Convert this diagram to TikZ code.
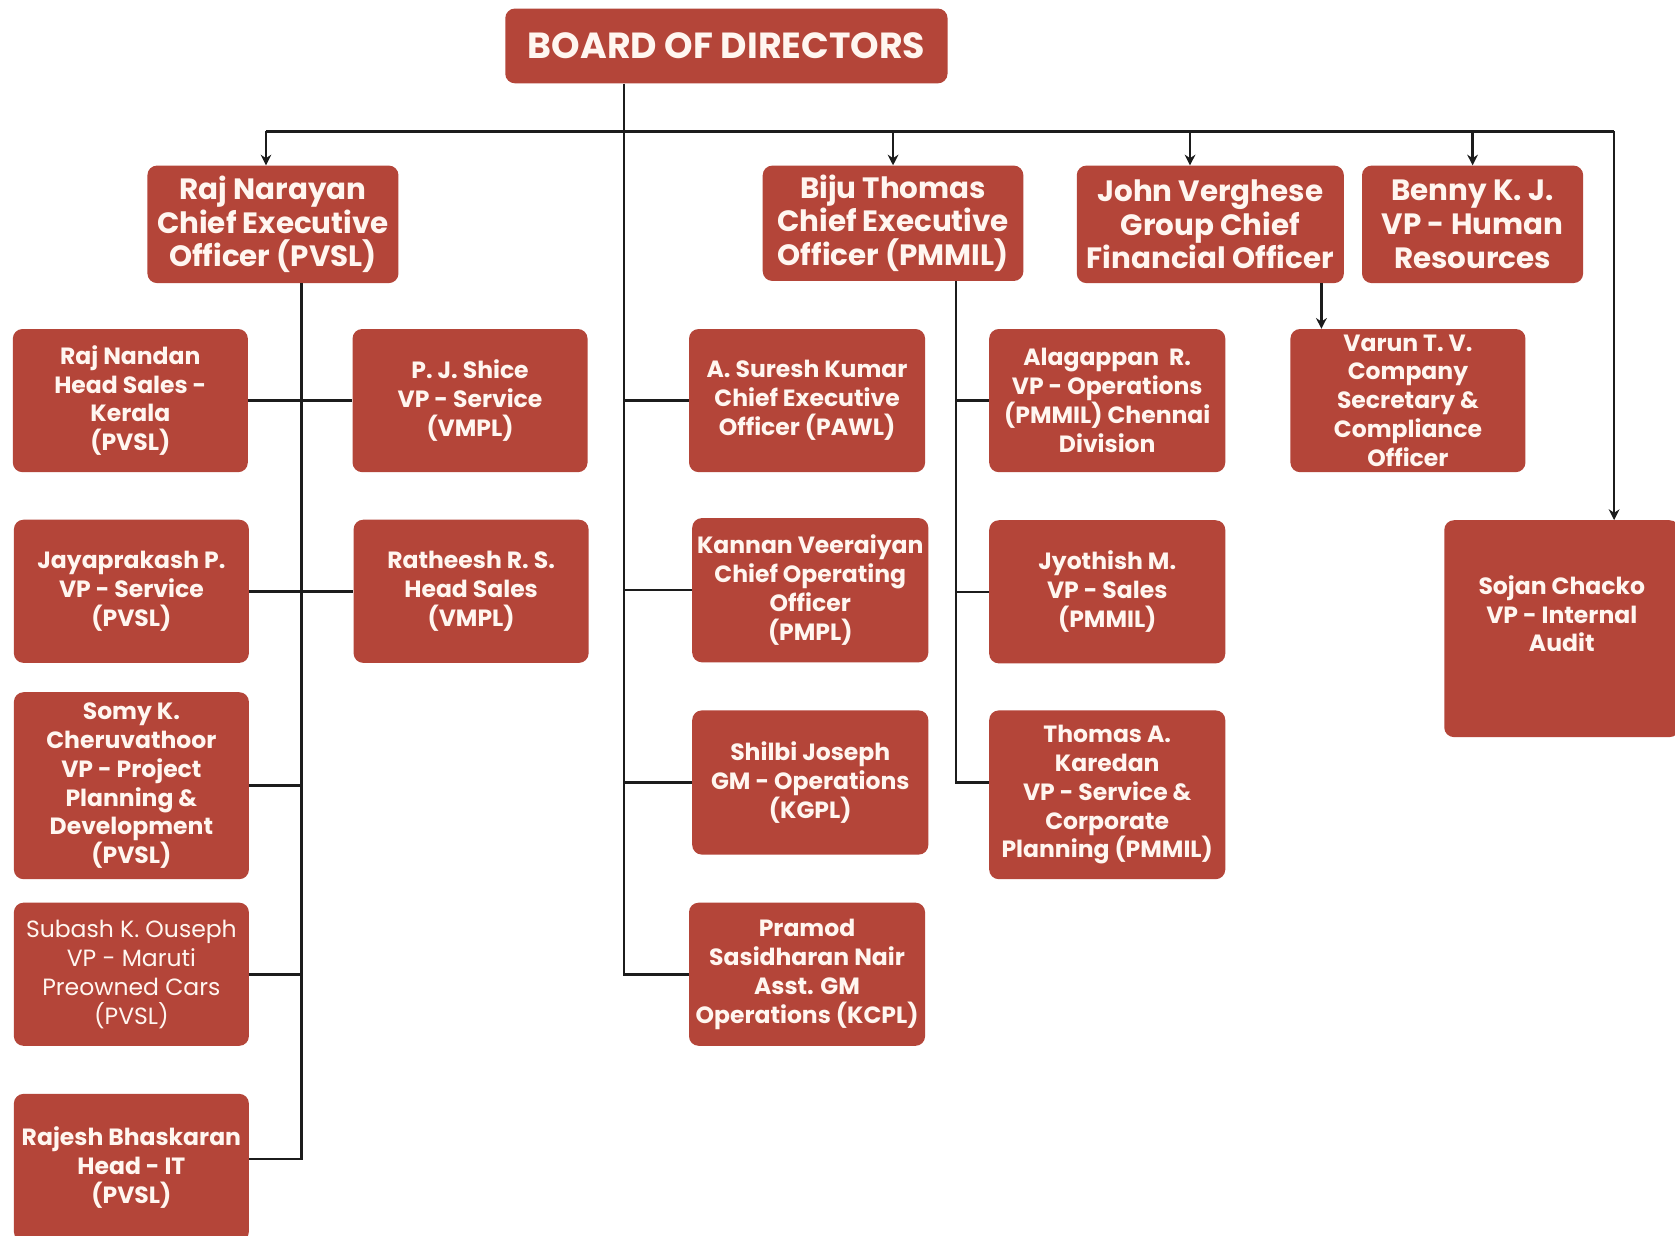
\documentclass[tikz,border=0pt]{standalone}
\usepackage{fontspec}
\setmainfont{Poppins}
\usetikzlibrary{arrows.meta}
\definecolor{boxred}{RGB}{180,69,57}
\definecolor{boxtext}{RGB}{255,246,240}
\definecolor{linecol}{RGB}{28,28,28}
\tikzset{
  box/.style={fill=boxred, rounded corners=9pt, text=boxtext, align=center, inner sep=0pt,
    font=\bfseries\fontsize{22}{27}\selectfont},
  topbox/.style={box, font=\bfseries\fontsize{27.5}{31.5}\selectfont},
  conn/.style={draw=linecol, line width=2.4pt},
  arr/.style={conn, -{Stealth[length=10pt,width=10pt]}},
}
\begin{document}
\begin{tikzpicture}[x=1pt,y=-1pt]
\useasboundingbox[fill=white] (0,0) rectangle (1568,1157);

% ---------- nodes ----------
\node[box, minimum width=414pt, minimum height=70pt, font=\bfseries\fontsize{34}{38}\selectfont] (board) at (680,43) {BOARD OF DIRECTORS};

\node[topbox, minimum width=235pt, minimum height=110pt] (rajnar) at (255.5,210) {Raj Narayan\\Chief Executive\\Officer (PVSL)};
\node[topbox, minimum width=244pt, minimum height=108pt] (biju) at (836,209) {Biju Thomas\\Chief Executive\\Officer (PMMIL)};
\node[topbox, minimum width=250pt, minimum height=110pt] (john) at (1133,210) {John Verghese\\Group Chief\\Financial Officer};
\node[topbox, minimum width=207pt, minimum height=110pt] (benny) at (1378.5,210) {Benny K. J.\\VP - Human\\Resources};

% Raj Narayan group
\node[box, minimum width=220pt, minimum height=134pt] (rajnandan) at (122,375) {Raj Nandan\\Head Sales -\\Kerala\\(PVSL)};
\node[box, minimum width=220pt, minimum height=134pt] (shice) at (440,375) {P. J. Shice\\VP - Service\\(VMPL)};
\node[box, minimum width=220pt, minimum height=134pt] (jaya) at (123,553.5) {Jayaprakash P.\\VP - Service\\(PVSL)};
\node[box, minimum width=220pt, minimum height=134pt] (rath) at (441,553.5) {Ratheesh R. S.\\Head Sales\\(VMPL)};
\node[box, minimum width=220pt, minimum height=175pt] (somy) at (123,735.5) {Somy K.\\Cheruvathoor\\VP - Project\\Planning \&\\Development\\(PVSL)};
\node[box, minimum width=220pt, minimum height=134pt, font=\mdseries\fontsize{22}{27}\selectfont] (subash) at (123,912) {Subash K. Ouseph\\VP - Maruti\\Preowned Cars\\(PVSL)};
\node[box, minimum width=220pt, minimum height=138pt] (rajesh) at (123,1093) {Rajesh Bhaskaran\\Head - IT\\(PVSL)};

% central column
\node[box, minimum width=221pt, minimum height=134pt] (suresh) at (755.5,375) {A. Suresh Kumar\\Chief Executive\\Officer (PAWL)};
\node[box, minimum width=221pt, minimum height=135pt] (kannan) at (758.5,552.5) {Kannan Veeraiyan\\Chief Operating\\Officer\\(PMPL)};
\node[box, minimum width=221pt, minimum height=135pt] (shilbi) at (758.5,732.5) {Shilbi Joseph\\GM - Operations\\(KGPL)};
\node[box, minimum width=221pt, minimum height=134pt] (pramod) at (755.5,912) {Pramod\\Sasidharan Nair\\Asst. GM\\Operations (KCPL)};

% Biju column
\node[box, minimum width=221pt, minimum height=134pt] (alag) at (1036.5,375) {Alagappan\ \ R.\\VP - Operations\\(PMMIL) Chennai\\Division};
\node[box, minimum width=221pt, minimum height=134pt] (jyo) at (1036.5,554) {Jyothish M.\\VP - Sales\\(PMMIL)};
\node[box, minimum width=221pt, minimum height=158pt] (kared) at (1036.5,744) {Thomas A.\\Karedan\\VP - Service \&\\Corporate\\Planning (PMMIL)};

% right
\node[box, minimum width=220pt, minimum height=134pt] (varun) at (1318,375) {Varun T. V.\\Company\\Secretary \&\\Compliance\\Officer};
\node[box, minimum width=220pt, minimum height=203pt, text depth=28pt] (sojan) at (1462,588.5) {Sojan Chacko\\VP - Internal\\Audit};

% ---------- connectors ----------
\coordinate (spine) at (584,123);
\coordinate (busL) at (249,123);
\coordinate (busR) at (1511,123);
\coordinate (johnx) at (1114,123);
\coordinate (rnx) at (282,0);
\coordinate (bjx) at (895,0);
\coordinate (jvx) at (1237,0);
\coordinate (rajeshc) at ([yshift=8pt]rajesh.east);

\draw[conn] (busL) -- (busR);
\draw[conn] (spine |- board.south) -- (spine |- pramod.west) -- (pramod.west);
\draw[arr] (busL) -- (busL |- rajnar.north);
\draw[arr] (biju.north |- spine) -- (biju.north);
\draw[arr] (johnx) -- (johnx |- john.north);
\draw[arr] (benny.north |- spine) -- (benny.north);
\draw[arr] (busR) -- (busR |- sojan.north);

% Raj Narayan tree
\draw[conn] (rnx |- rajnar.south) -- (rnx |- rajeshc) -- (rajeshc);
\draw[conn] (rajnandan.east) -- (shice.west);
\draw[conn] (jaya.east) -- (rath.west);
\draw[conn] (somy.east) -- (rnx |- somy.east);
\draw[conn] (subash.east) -- (rnx |- subash.east);

% central tree
\draw[conn] (spine |- suresh.west) -- (suresh.west);
\draw[conn] (spine |- kannan.west) -- (kannan.west);
\draw[conn] (spine |- shilbi.west) -- (shilbi.west);

% Biju tree
\draw[conn] (bjx |- biju.south) -- (bjx |- shilbi.west) -- (kared.west |- shilbi.west);
\draw[conn] (bjx |- alag.west) -- (alag.west);
\draw[conn] (bjx |- jyo.west) -- (jyo.west);

% John -> Varun
\draw[arr] (jvx |- john.south) -- (jvx |- varun.north);
\end{tikzpicture}
\end{document}
